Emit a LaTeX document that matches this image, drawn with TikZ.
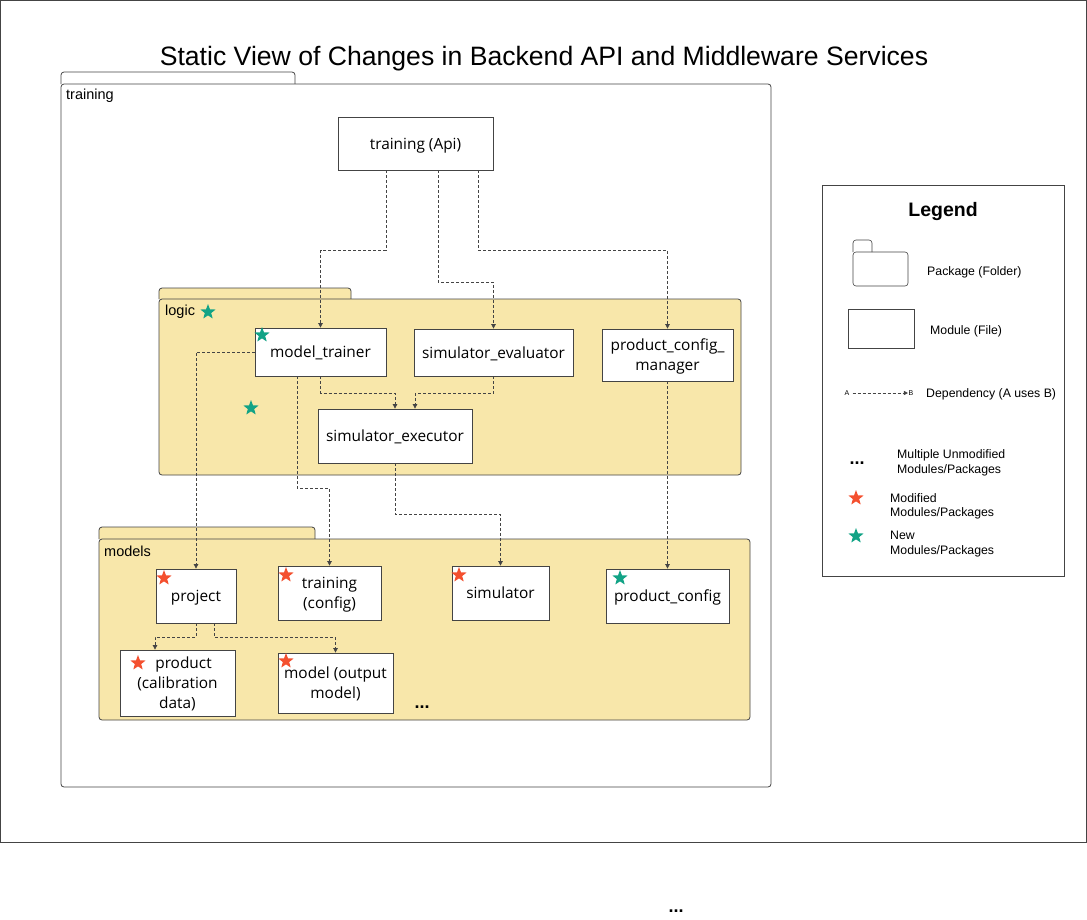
\documentclass[tikz,border=0pt]{standalone}
\usepackage{fontspec}
\setmainfont{Liberation Sans}
\newfontfamily\modfont{Open Sans}
\usetikzlibrary{arrows.meta,shapes.geometric}
\definecolor{pkgfill}{HTML}{F8E7AA}
\definecolor{modstar}{HTML}{F4502F}
\definecolor{newstar}{HTML}{12A386}
\definecolor{edge}{HTML}{444444}
\begin{document}
\begin{tikzpicture}[x=1pt, y=-1pt,
  module/.style={draw=edge, fill=white, line width=0.8pt, inner sep=0pt, align=center,
    text depth=0pt, font=\modfont\fontsize{15.4}{20}\selectfont},
  pkg/.style={draw=edge, line width=0.8pt, rounded corners=3pt},
  pkglabel/.style={anchor=west, inner sep=0pt, font=\fontsize{14.5}{17}\selectfont},
  dep/.style={draw=edge, line width=0.7pt, dash pattern=on 3pt off 2pt,
    -{Triangle[length=4.5pt,width=4.5pt]}},
  starmark/.style={star, star points=5, star point ratio=2.4, minimum size=16pt,
    inner sep=0pt, draw=none},
  dotmark/.style={font=\bfseries\fontsize{18}{18}\selectfont, inner sep=0pt},
  legtext/.style={anchor=west, inner sep=0pt, align=left, font=\fontsize{12.3}{14.5}\selectfont}]
\useasboundingbox (0,0) rectangle (1087,919);
\draw[edge, line width=0.8pt] (0.5,0.5) rectangle (1086.5,842);
\node[font=\fontsize{26.6}{30}\selectfont] (title) at (544,59) {Static View of Changes in Backend API and Middleware Services};
\node[dotmark] (dotsbottom) at (676,911) {...};

% training package
\draw[pkg, fill=white] (61,84) -- (61,72) -- (295,72) -- (295,84);
\draw[pkg, fill=white] (61,84) rectangle (771,787);
\node[pkglabel] (lbltraining) at (66,96) {training};
\node[module, minimum width=155pt, minimum height=53pt] (api) at (415.5,143.5) {training (Api)};

% logic package
\draw[pkg, fill=pkgfill] (159,299) -- (159,288) -- (351,288) -- (351,299);
\draw[pkg, fill=pkgfill] (159,299) rectangle (741,475);
\node[pkglabel] (lbllogic) at (165,312) {logic};
\node[starmark, fill=newstar] (starlogic) at (208,312) {};
\node[starmark, fill=newstar] (starfree) at (251,408) {};
\node[module, minimum width=131pt, minimum height=48pt] (trainer) at (320.5,352) {model\_trainer};
\node[module, minimum width=159pt, minimum height=47pt] (evaluator) at (493.5,352.5) {simulator\_evaluator};
\node[module, minimum width=131pt, minimum height=52pt] (pcm) at (667.5,355) {product\_config\_\\manager};
\node[module, minimum width=154pt, minimum height=54pt] (executor) at (395,436) {simulator\_executor};
\node[starmark, fill=newstar] (startrainer) at (262,335) {};

% models package
\draw[pkg, fill=pkgfill] (99,539) -- (99,527) -- (315,527) -- (315,539);
\draw[pkg, fill=pkgfill] (99,539) rectangle (750,720);
\node[pkglabel] (lblmodels) at (104,551) {models};
\node[module, minimum width=80pt, minimum height=54pt] (project) at (196,596) {project};
\node[module, minimum width=103pt, minimum height=54pt] (trcfg) at (329.5,593) {training\\(config)};
\node[module, minimum width=97pt, minimum height=54pt] (simulator) at (500.5,593) {simulator};
\node[module, minimum width=123pt, minimum height=54pt] (pc) at (667.5,596) {product\_config};
\node[module, minimum width=115pt, minimum height=66pt] (product) at (177.5,683) {\hspace*{12pt}product\\(calibration\\data)};
\node[module, minimum width=115pt, minimum height=60pt] (model) at (335.5,683) {model (output\\model)};
\node[dotmark] (dotsmodels) at (422,707) {...};
\node[starmark, fill=modstar] (starproject) at (164,578) {};
\node[starmark, fill=modstar] (startrcfg) at (286,575) {};
\node[starmark, fill=modstar] (starsim) at (459,575) {};
\node[starmark, fill=newstar] (starpc) at (620,578) {};
\node[starmark, fill=modstar] (starproduct) at (138,663) {};
\node[starmark, fill=modstar] (starmodel) at (286,661) {};

% dependencies
\draw[dep] ([xshift=-29.5pt]api.south) -- ++(0,80) -| (trainer.north);
\draw[dep] ([xshift=22.5pt]api.south) -- ++(0,112) -| (evaluator.north);
\draw[dep] ([xshift=62.5pt]api.south) -- ++(0,80) -| (pcm.north);
\draw[dep] (trainer.west) -| (project.north);
\draw[dep] ([xshift=-23.5pt]trainer.south) -- ++(0,112) -| (trcfg.north);
\draw[dep] (trainer.south) -- ++(0,17) -| (executor.north);
\draw[dep] (evaluator.south) -- ++(0,17) -| ([xshift=20pt]executor.north);
\draw[dep] (executor.south) -- ++(0,51) -| (simulator.north);
\draw[dep] (pcm.south) -- (pc.north);
\draw[dep] (project.south) -- ++(0,14) -| ([xshift=-22.5pt]product.north);
\draw[dep] ([xshift=18pt]project.south) -- ++(0,14) -| (model.north);

% legend
\draw[edge, line width=0.8pt] (822,185) rectangle (1064,576);
\node[font=\bfseries\fontsize{19.5}{22}\selectfont] (legend) at (943,211) {Legend};
\draw[pkg, line width=0.6pt] (853,252) -- (853,240) -- (872,240) -- (872,252);
\draw[pkg, line width=0.6pt] (853,252) rectangle (908,286);
\node[legtext] (legpkg) at (927,272) {Package (Folder)};
\draw[edge, line width=0.6pt] (848,309) rectangle (914,348);
\node[legtext] (legmod) at (930,331) {Module (File)};
\node[inner sep=0pt, font=\fontsize{7}{7}\selectfont] (depA) at (847,393) {A};
\node[inner sep=0pt, font=\fontsize{7}{7}\selectfont] (depB) at (911,393) {B};
\draw[dep, line width=0.5pt, -{Triangle[length=4pt,width=4pt]}] ([xshift=3pt]depA.east) -- ([xshift=-0.5pt]depB.west);
\node[legtext] (legdep) at (926,394) {Dependency (A uses B)};
\node[dotmark] (legdots) at (857,463) {...};
\node[legtext] (legunmod) at (897,463) {Multiple Unmodified\\Modules/Packages};
\node[starmark, fill=modstar] (legstarmod) at (856,498) {};
\node[legtext] (legmodified) at (890,506.5) {Modified\\Modules/Packages};
\node[starmark, fill=newstar] (legstarnew) at (856,536) {};
\node[legtext] (legnew) at (890,544) {New\\Modules/Packages};
\end{tikzpicture}
\end{document}
